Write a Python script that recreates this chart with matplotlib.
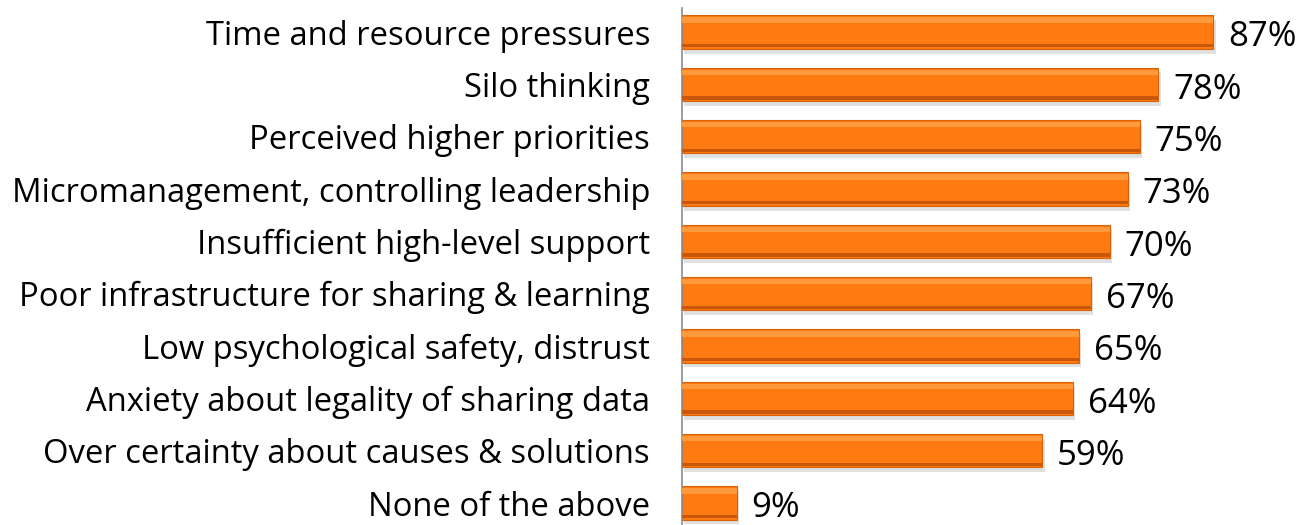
import matplotlib.pyplot as plt
import numpy as np

categories = [
    "Time and resource pressures",
    "Silo thinking",
    "Perceived higher priorities",
    "Micromanagement, controlling leadership",
    "Insufficient high-level support",
    "Poor infrastructure for sharing & learning",
    "Low psychological safety, distrust",
    "Anxiety about legality of sharing data",
    "Over certainty about causes & solutions",
    "None of the above",
]
values = [87, 78, 75, 73, 70, 67, 65, 64, 59, 9]

plt.rcParams['font.family'] = ['Open Sans', 'DejaVu Sans']

fig = plt.figure(figsize=(13.05, 5.25), dpi=100)
ax = fig.add_axes([682 / 1305, 0.0, 1 - 682 / 1305, 517 / 525])

y = np.arange(len(values))
h = 0.64

# soft shadow
ax.barh(y + 0.09, values, height=h, left=0.35, color="#000000", alpha=0.12, zorder=1)
# main bar
ax.barh(y, values, height=h, color="#FF7A10", edgecolor="#D8620A", linewidth=0.8, zorder=2)
# top highlight and darker bottom band for the bevel look
ax.barh(y - h * 0.36, values, height=h * 0.16, color="#FF9A3C", linewidth=0, zorder=3)
ax.barh(y + h * 0.41, values, height=h * 0.10, color="#C9570A", linewidth=0, zorder=3)

for yi, v in zip(y, values):
    ax.text(v + 2.4, yi + 0.1, f"{v}%", va="center", ha="left", fontsize=25, color="#000000")

ax.set_xlim(0, 102)
ax.set_ylim(9.42, -0.46)
ax.set_yticks(y)
ax.set_yticklabels(categories, fontsize=23.6)
ax.tick_params(axis="y", length=0, pad=23)
ax.set_xticks([])

for s in ["top", "right", "bottom"]:
    ax.spines[s].set_visible(False)
ax.spines["left"].set_color("#8C8C8C")
ax.spines["left"].set_linewidth(1.2)

plt.savefig("out.png")
plt.close()
